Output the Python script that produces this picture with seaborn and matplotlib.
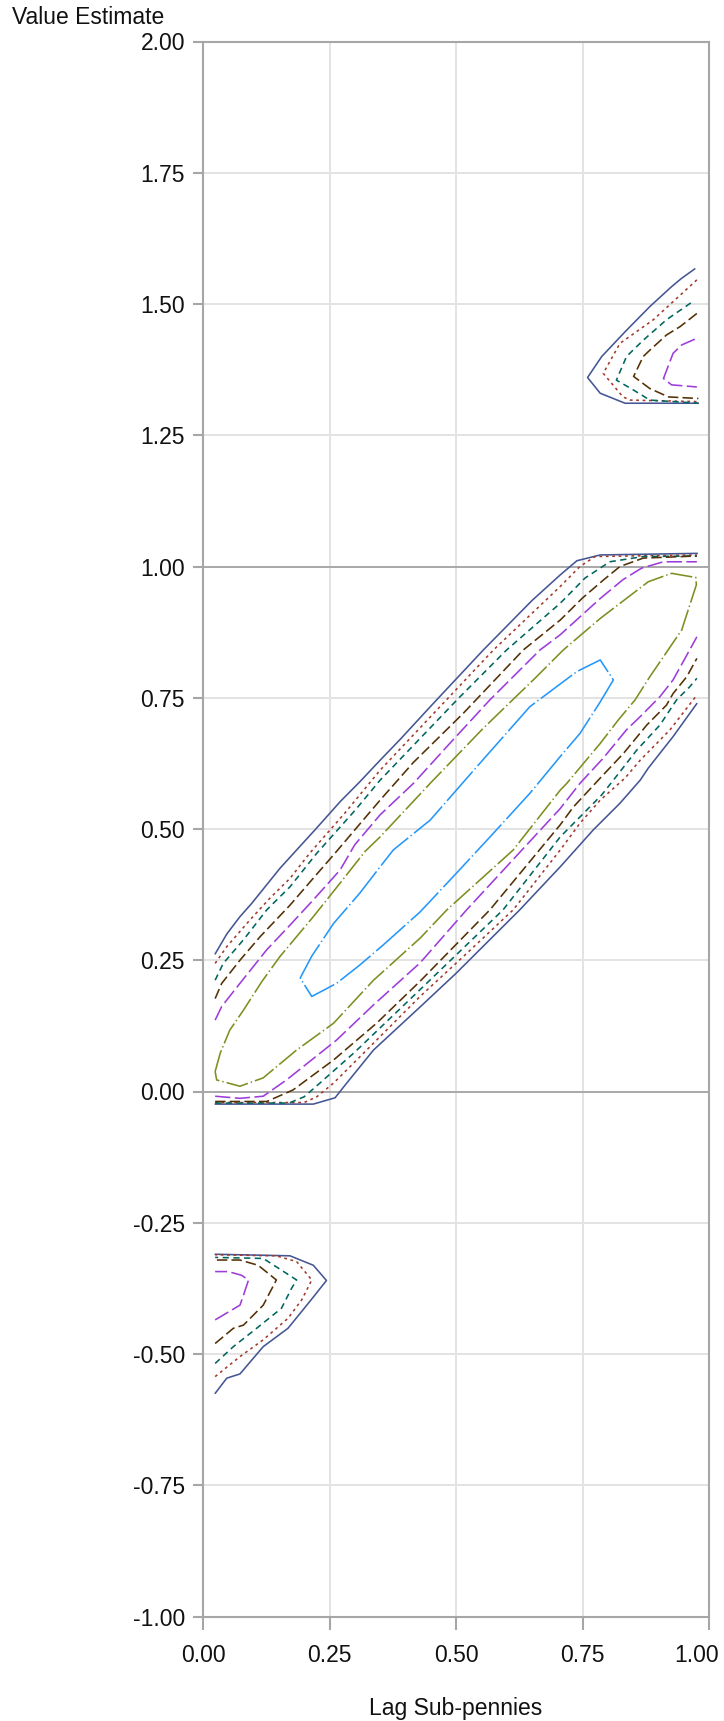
import matplotlib
matplotlib.use("Agg")
import matplotlib.pyplot as plt
import matplotlib.transforms as mtransforms
import seaborn as sns

# ---------------------------------------------------------------
# Density contours of Value Estimate against Lag Sub-pennies.
# Each contour level is stored as a set of (x, y) vertex lists.
# ---------------------------------------------------------------

# level 1 (outermost)
L1_UPPER = [(0.024, 0.262), (0.047, 0.300), (0.073, 0.333), (0.096, 0.358), (0.152, 0.425),
            (0.185, 0.460), (0.221, 0.498), (0.271, 0.552), (0.310, 0.590), (0.350, 0.631),
            (0.389, 0.670), (0.455, 0.739), (0.554, 0.841), (0.650, 0.935), (0.706, 0.984),
            (0.739, 1.011), (0.785, 1.022), (0.977, 1.025)]
L1_LOWER = [(0.024, -0.024), (0.218, -0.024), (0.261, -0.012), (0.284, 0.016), (0.337, 0.079),
            (0.429, 0.161), (0.500, 0.225), (0.626, 0.346), (0.706, 0.428), (0.771, 0.498),
            (0.824, 0.549), (0.864, 0.593), (0.880, 0.616), (0.929, 0.676), (0.976, 0.739)]
L1_TOP = [(0.972, 1.567), (0.946, 1.549), (0.926, 1.533), (0.883, 1.495), (0.834, 1.447),
          (0.788, 1.400), (0.760, 1.360), (0.785, 1.330), (0.834, 1.311), (0.979, 1.311)]
L1_BOTTOM = [(0.024, -0.575), (0.047, -0.546), (0.073, -0.538), (0.119, -0.486), (0.168, -0.451),
             (0.211, -0.400), (0.244, -0.360), (0.218, -0.331), (0.172, -0.313), (0.024, -0.310)]

# level 2
L2_UPPER = [(0.024, 0.244), (0.047, 0.276), (0.093, 0.327), (0.132, 0.368), (0.172, 0.406),
            (0.211, 0.454), (0.280, 0.530), (0.350, 0.612), (0.485, 0.750), (0.574, 0.841),
            (0.706, 0.962), (0.745, 1.000), (0.775, 1.019), (0.976, 1.022)]
L2_LOWER = [(0.024, -0.021), (0.200, -0.021), (0.225, -0.010), (0.258, 0.016), (0.310, 0.066),
            (0.429, 0.181), (0.520, 0.262), (0.613, 0.346), (0.706, 0.460), (0.745, 0.511),
            (0.785, 0.555), (0.834, 0.597), (0.864, 0.631), (0.923, 0.689), (0.976, 0.755)]
L2_TOP = [(0.976, 1.546), (0.890, 1.470), (0.824, 1.425), (0.791, 1.368), (0.830, 1.323),
          (0.844, 1.317), (0.979, 1.314)]
L2_BOTTOM = [(0.024, -0.543), (0.073, -0.505), (0.119, -0.473), (0.168, -0.432), (0.195, -0.397),
             (0.215, -0.359), (0.185, -0.324), (0.145, -0.313), (0.024, -0.311)]

# level 3
L3_UPPER = [(0.024, 0.212), (0.040, 0.244), (0.080, 0.289), (0.126, 0.346), (0.172, 0.390),
            (0.225, 0.454), (0.300, 0.535), (0.350, 0.593), (0.506, 0.750), (0.600, 0.841),
            (0.706, 0.930), (0.755, 0.978), (0.804, 1.009), (0.870, 1.019), (0.976, 1.020)]
L3_LOWER = [(0.024, -0.022), (0.170, -0.022), (0.200, -0.010), (0.231, 0.016), (0.300, 0.075),
            (0.430, 0.195), (0.593, 0.346), (0.706, 0.485), (0.745, 0.523), (0.788, 0.565),
            (0.824, 0.609), (0.857, 0.650), (0.903, 0.698), (0.936, 0.746), (0.962, 0.771),
            (0.976, 0.787)]
L3_TOP = [(0.964, 1.502), (0.916, 1.470), (0.870, 1.431), (0.837, 1.400), (0.817, 1.355),
          (0.851, 1.336), (0.883, 1.317), (0.979, 1.311)]
L3_BOTTOM = [(0.024, -0.518), (0.060, -0.486), (0.106, -0.451), (0.155, -0.413), (0.175, -0.375),
             (0.185, -0.359), (0.145, -0.334), (0.119, -0.318), (0.024, -0.316)]

# level 4
L4_UPPER = [(0.024, 0.177), (0.037, 0.206), (0.073, 0.250), (0.113, 0.295), (0.172, 0.355),
            (0.215, 0.403), (0.261, 0.454), (0.350, 0.555), (0.416, 0.627), (0.514, 0.720),
            (0.633, 0.841), (0.706, 0.898), (0.750, 0.940), (0.791, 0.974), (0.824, 1.000),
            (0.870, 1.016), (0.976, 1.020)]
L4_LOWER = [(0.024, -0.019), (0.126, -0.019), (0.178, 0.003), (0.258, 0.060), (0.343, 0.130),
            (0.429, 0.210), (0.567, 0.346), (0.706, 0.508), (0.732, 0.542), (0.785, 0.597),
            (0.831, 0.644), (0.877, 0.698), (0.916, 0.736), (0.929, 0.758), (0.956, 0.790),
            (0.976, 0.825)]
L4_TOP = [(0.976, 1.482), (0.943, 1.457), (0.916, 1.441), (0.883, 1.412), (0.870, 1.400),
          (0.851, 1.362), (0.883, 1.339), (0.920, 1.323), (0.979, 1.320)]
L4_BOTTOM = [(0.024, -0.480), (0.060, -0.451), (0.080, -0.445), (0.119, -0.407), (0.145, -0.359),
             (0.109, -0.331), (0.073, -0.321), (0.024, -0.321)]

# level 5
L5_UPPER = [(0.024, 0.136), (0.037, 0.162), (0.073, 0.206), (0.126, 0.270), (0.172, 0.317),
            (0.218, 0.365), (0.271, 0.422), (0.300, 0.470), (0.350, 0.527), (0.416, 0.587),
            (0.482, 0.657), (0.567, 0.746), (0.666, 0.841), (0.706, 0.870), (0.785, 0.939),
            (0.830, 0.975), (0.867, 0.997), (0.910, 1.009), (0.976, 1.009)]
L5_LOWER = [(0.024, -0.009), (0.073, -0.013), (0.119, -0.009), (0.165, 0.022), (0.264, 0.098),
            (0.337, 0.165), (0.429, 0.245), (0.521, 0.346), (0.706, 0.539), (0.745, 0.587),
            (0.791, 0.635), (0.837, 0.689), (0.864, 0.714), (0.903, 0.752), (0.929, 0.784),
            (0.956, 0.831), (0.976, 0.866)]
L5_TOP = [(0.972, 1.433), (0.946, 1.422), (0.929, 1.406), (0.910, 1.358), (0.926, 1.346),
          (0.976, 1.342)]
L5_BOTTOM = [(0.024, -0.435), (0.073, -0.407), (0.080, -0.388), (0.090, -0.359), (0.076, -0.350),
             (0.050, -0.343), (0.024, -0.343)]

# level 6 (closed loop)
L6_LOOP = [(0.024, 0.038), (0.034, 0.073), (0.053, 0.117), (0.080, 0.155), (0.116, 0.209),
           (0.152, 0.257), (0.218, 0.333), (0.271, 0.397), (0.320, 0.457), (0.350, 0.485),
           (0.449, 0.587), (0.554, 0.692), (0.656, 0.787), (0.712, 0.841), (0.785, 0.901),
           (0.880, 0.971), (0.926, 0.987), (0.974, 0.979), (0.975, 0.965), (0.946, 0.879),
           (0.883, 0.790), (0.854, 0.746), (0.821, 0.708), (0.785, 0.663), (0.719, 0.587),
           (0.706, 0.574), (0.613, 0.460), (0.482, 0.346), (0.429, 0.292), (0.337, 0.212),
           (0.258, 0.130), (0.185, 0.079), (0.119, 0.026), (0.073, 0.010), (0.027, 0.022),
           (0.024, 0.038)]

# level 7 (innermost closed loop)
L7_LOOP = [(0.192, 0.216), (0.215, 0.258), (0.258, 0.320), (0.310, 0.378), (0.350, 0.428),
           (0.376, 0.460), (0.449, 0.517), (0.547, 0.625), (0.646, 0.733), (0.739, 0.800),
           (0.785, 0.822), (0.811, 0.784), (0.785, 0.742), (0.745, 0.682), (0.706, 0.638),
           (0.646, 0.568), (0.574, 0.492), (0.501, 0.416), (0.429, 0.342), (0.356, 0.279),
           (0.310, 0.241), (0.264, 0.206), (0.215, 0.181), (0.192, 0.216)]

LEVELS = {
    1: [L1_UPPER, L1_LOWER, L1_TOP, L1_BOTTOM],
    2: [L2_UPPER, L2_LOWER, L2_TOP, L2_BOTTOM],
    3: [L3_UPPER, L3_LOWER, L3_TOP, L3_BOTTOM],
    4: [L4_UPPER, L4_LOWER, L4_TOP, L4_BOTTOM],
    5: [L5_UPPER, L5_LOWER, L5_TOP, L5_BOTTOM],
    6: [L6_LOOP],
    7: [L7_LOOP],
}

X_TICKS = [0.00, 0.25, 0.50, 0.75, 1.00]
Y_TICKS = [-1.00, -0.75, -0.50, -0.25, 0.00, 0.25, 0.50, 0.75, 1.00, 1.25, 1.50, 1.75, 2.00]
REF_LINES = [0.0, 1.0]

# line appearance per level
COLORS = {1: "#445694", 2: "#A23A2E", 3: "#01665E", 4: "#543005",
          5: "#9D3CDB", 6: "#7F8E1F", 7: "#2597FA"}
DASHES = {1: "-",
          2: (0, (2.0, 2.6)),
          3: (0, (4.5, 3.2)),
          4: (0, (7.5, 3.0)),
          5: (0, (11.0, 3.2)),
          6: (0, (16.0, 2.2, 1.0, 2.2)),
          7: (0, (28.0, 2.2, 1.0, 2.2))}

FONT_SIZE = 16.5

sns.set_theme(style="white")
plt.rcParams["font.family"] = ["Liberation Sans", "DejaVu Sans"]
plt.rcParams["lines.scale_dashes"] = False

fig = plt.figure(figsize=(7.24, 17.21), dpi=100)
ax = fig.add_axes([203 / 724, 104.5 / 1721, 506 / 724, 1575 / 1721])

for level, pieces in LEVELS.items():
    for piece in pieces:
        xs = [p[0] for p in piece]
        ys = [p[1] for p in piece]
        sns.lineplot(x=xs, y=ys, sort=False, estimator=None, ax=ax,
                     color=COLORS[level], linestyle=DASHES[level], linewidth=1.15)

ax.set_xlim(0, 1)
ax.set_ylim(-1, 2)
ax.set_xticks(X_TICKS)
ax.set_yticks(Y_TICKS)
ax.set_xticklabels([f"{v:.2f}" for v in X_TICKS])
ax.set_yticklabels([f"{v:.2f}" for v in Y_TICKS])

ax.set_axisbelow(True)
ax.grid(True, color="#e3e3e3", linewidth=1.4)
for y in REF_LINES:
    ax.axhline(y, color="#a9a9a9", linewidth=1.4, zorder=1.5)

for side in ["left", "right", "top", "bottom"]:
    ax.spines[side].set_visible(True)
    ax.spines[side].set_color("#a6a6a6")
    ax.spines[side].set_linewidth(1.5)

ax.tick_params(axis="y", direction="out", length=7, width=1.5, color="#a6a6a6",
               labelsize=FONT_SIZE, labelcolor="#111111", pad=6, left=True)
ax.tick_params(axis="x", direction="out", length=9, width=1.5, color="#a6a6a6",
               labelsize=FONT_SIZE, labelcolor="#111111", pad=11, bottom=True)

# keep the last x tick label inside the figure edge
last = ax.get_xticklabels()[-1]
last.set_transform(last.get_transform() +
                   mtransforms.ScaledTranslation(-12 / 100, 0, fig.dpi_scale_trans))

ax.set_xlabel("")
ax.set_ylabel("")
fig.text(12 / 724, 1 - 18 / 1721, "Value Estimate", ha="left", va="center",
         fontsize=FONT_SIZE, color="#111111")
fig.text(456 / 724, 1 - 1708 / 1721, "Lag Sub-pennies", ha="center", va="center",
         fontsize=FONT_SIZE, color="#111111")

fig.savefig("out.png", dpi=100)
